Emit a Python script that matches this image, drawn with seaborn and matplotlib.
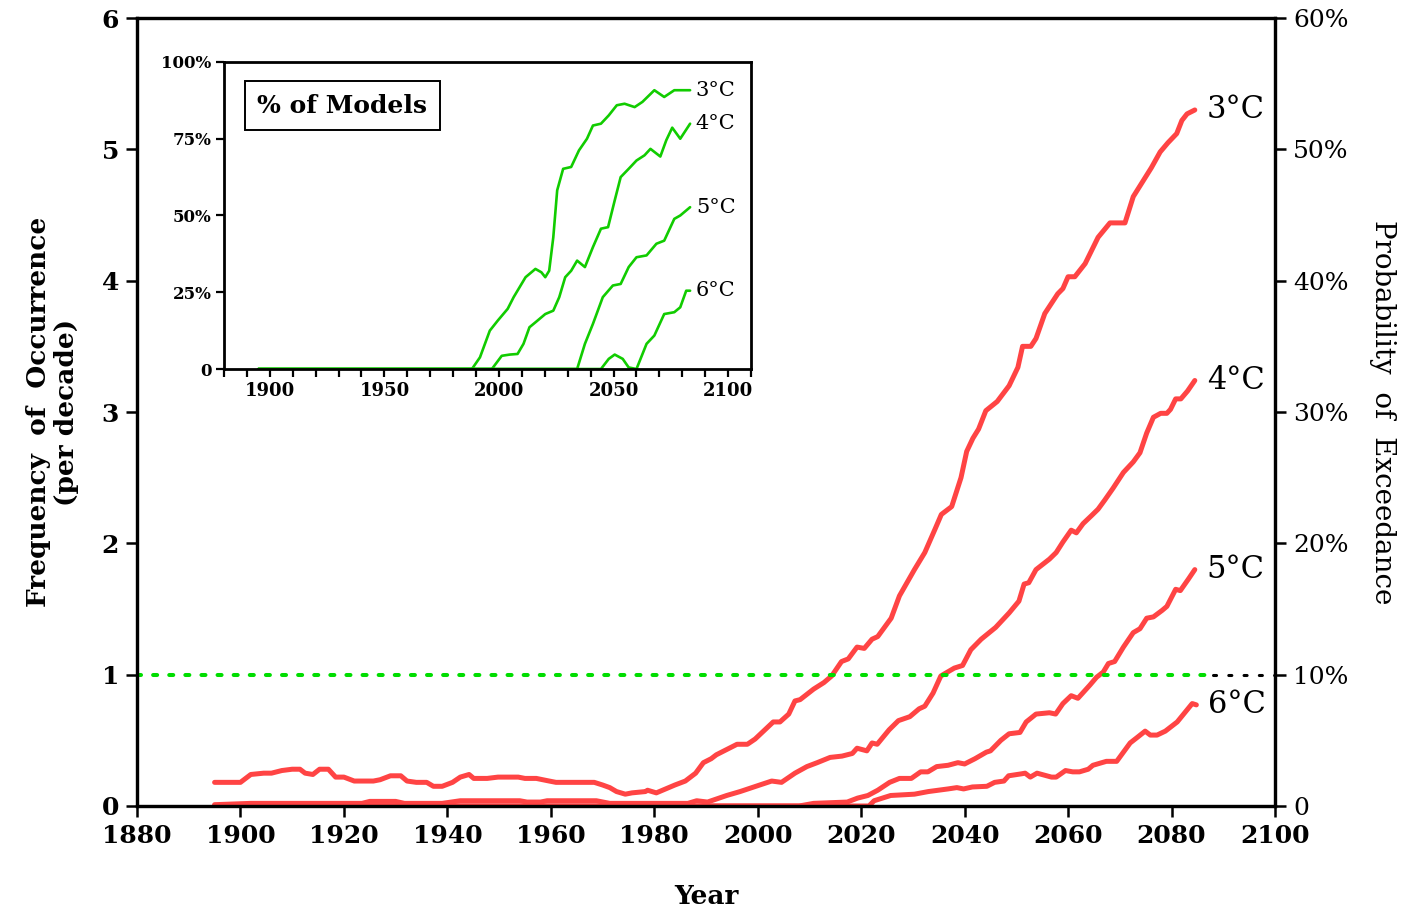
import numpy as np
import pandas as pd
import matplotlib
matplotlib.use("Agg")
import matplotlib.pyplot as plt
import seaborn as sns

# ---------------- data ----------------
yr_3c = [1895, 1900, 1902, 1904.5, 1906, 1908, 1910, 1911.5, 1912.5, 1914, 1915.3, 1917, 1918.4, 1920,
         1922, 1925.7, 1927, 1929, 1931, 1932.2, 1934, 1936, 1937.3, 1939, 1941, 1942.5, 1944.2, 1945.1,
         1947.7, 1949.8, 1953.7, 1955, 1957.2, 1959.7, 1961, 1968.4, 1970, 1971.4, 1972.7, 1974.4, 1975.7,
         1978.3, 1978.7, 1980.4, 1984, 1986, 1988, 1989.5, 1991, 1992, 1994, 1996, 1998, 1999.5, 2003,
         2004.3, 2006, 2007.2, 2008.2, 2010.8, 2012.8, 2014.3, 2016.2, 2017.5, 2019.2, 2020.6, 2022.1,
         2023.2, 2025.8, 2027.4, 2030.3, 2032.3, 2034.3, 2035.5, 2037.5, 2039.3, 2040.4, 2041.6, 2042.7,
         2044.1, 2046.3, 2048.6, 2050.3, 2051.2, 2052.8, 2053.8, 2055.5, 2058, 2059, 2060, 2061.3, 2063.3,
         2065.8, 2068.1, 2071, 2072.6, 2076.1, 2077.8, 2079.3, 2081, 2082, 2083, 2084.5]
val_3c = [0.18, 0.18, 0.24, 0.25, 0.25, 0.27, 0.28, 0.28, 0.25, 0.24, 0.28, 0.28, 0.22, 0.22,
          0.19, 0.19, 0.20, 0.23, 0.23, 0.19, 0.18, 0.18, 0.15, 0.15, 0.18, 0.22, 0.24, 0.21,
          0.21, 0.22, 0.22, 0.21, 0.21, 0.19, 0.18, 0.18, 0.16, 0.14, 0.11, 0.09, 0.10,
          0.11, 0.12, 0.10, 0.16, 0.19, 0.25, 0.33, 0.36, 0.39, 0.43, 0.47, 0.47, 0.51, 0.64,
          0.64, 0.70, 0.80, 0.81, 0.89, 0.94, 0.99, 1.10, 1.12, 1.21, 1.20, 1.27,
          1.29, 1.43, 1.60, 1.80, 1.93, 2.11, 2.22, 2.28, 2.50, 2.70, 2.80, 2.87,
          3.01, 3.08, 3.20, 3.34, 3.50, 3.50, 3.56, 3.75, 3.90, 3.94, 4.03, 4.03, 4.13,
          4.33, 4.44, 4.44, 4.64, 4.86, 4.98, 5.05, 5.12, 5.22, 5.27, 5.30]

yr_4c = [1895, 1902, 1923.5, 1925, 1930, 1931.7, 1939, 1942.5, 1954, 1955.4, 1958, 1959.3, 1968.8, 1971.4,
         1986.5, 1988.2, 1990.3, 1994, 1996.6, 2000.4, 2002.7, 2004.6, 2007.2, 2009.5, 2011.5, 2014,
         2016.3, 2018.3, 2019.2, 2021.1, 2022.1, 2023.1, 2025.4, 2027.2, 2029.4, 2031.2, 2032.3, 2033.9,
         2035.4, 2038, 2039.6, 2041.2, 2043.2, 2046, 2048.6, 2050.5, 2051.5, 2052.4, 2053.8, 2056.4,
         2057.7, 2059, 2060.6, 2061.6, 2062.9, 2064.5, 2065.8, 2067.1, 2068.7, 2070.7, 2072.6, 2073.9,
         2075.2, 2076.5, 2077.9, 2079.1, 2079.8, 2080.8, 2081.8, 2083.1, 2084.5]
val_4c = [0.01, 0.02, 0.02, 0.035, 0.035, 0.02, 0.02, 0.04, 0.04, 0.03, 0.03, 0.04, 0.04, 0.02,
          0.02, 0.04, 0.03, 0.08, 0.11, 0.16, 0.19, 0.18, 0.25, 0.30, 0.33, 0.37,
          0.38, 0.40, 0.44, 0.42, 0.48, 0.47, 0.58, 0.65, 0.68, 0.74, 0.76, 0.86,
          0.99, 1.05, 1.07, 1.19, 1.27, 1.36, 1.47, 1.56, 1.69, 1.70, 1.80, 1.88,
          1.93, 2.01, 2.10, 2.08, 2.15, 2.21, 2.26, 2.33, 2.42, 2.54, 2.62, 2.69,
          2.84, 2.96, 2.99, 2.99, 3.02, 3.10, 3.10, 3.16, 3.24]

yr_5c = [1895, 2008, 2010.8, 2017.3, 2019.3, 2021.3, 2023.2, 2025.5, 2027.4, 2029.7, 2031.5, 2032.9,
         2034.6, 2036.8, 2038.7, 2040, 2042, 2044.2, 2045, 2047, 2048.6, 2050.7, 2051.9, 2053.8, 2056.4,
         2057.6, 2059, 2060.6, 2061.9, 2064.2, 2065.5, 2066.8, 2067.8, 2069, 2070.7, 2072.6, 2073.9,
         2075.2, 2076.5, 2078.2, 2079.1, 2080.8, 2081.7, 2083.3, 2084.5]
val_5c = [0.0, 0.0, 0.02, 0.03, 0.06, 0.08, 0.12, 0.18, 0.21, 0.21, 0.26, 0.26,
          0.30, 0.31, 0.33, 0.32, 0.36, 0.41, 0.42, 0.50, 0.55, 0.56, 0.64, 0.70, 0.71,
          0.70, 0.78, 0.84, 0.82, 0.92, 0.98, 1.02, 1.085, 1.10, 1.21, 1.32, 1.35,
          1.43, 1.44, 1.49, 1.52, 1.65, 1.64, 1.73, 1.80]

yr_6c = [1895, 2021.5, 2022.5, 2025.7, 2030.3, 2033, 2036.8, 2038.5, 2039.8, 2041.5, 2044.3, 2045.8,
         2047.6, 2048.5, 2051, 2051.7, 2052.7, 2054, 2056.8, 2057.7, 2059.5, 2060.9, 2062.2, 2063.9,
         2064.8, 2067.4, 2069.4, 2072, 2073.3, 2074.9, 2075.9, 2077.2, 2078.8, 2081.1, 2084, 2084.8]
val_6c = [0.0, 0.0, 0.04, 0.08, 0.09, 0.11, 0.13, 0.14, 0.13, 0.145, 0.15, 0.18,
          0.19, 0.23, 0.245, 0.25, 0.22, 0.25, 0.22, 0.22, 0.27, 0.26, 0.26, 0.28,
          0.31, 0.34, 0.34, 0.48, 0.52, 0.57, 0.54, 0.54, 0.57, 0.64, 0.78, 0.77]

# inset: % of models
pyr_3c = [1895, 1988.2, 1991.7, 1996, 1999.5, 2003.8, 2006.4, 2011.6, 2015.9, 2018.5, 2020.2, 2021.9,
          2023.7, 2025.4, 2028, 2031.5, 2034.9, 2038.4, 2041, 2044.5, 2047.9, 2051.4, 2054.8, 2059.2,
          2062.6, 2067.8, 2072.1, 2076.5, 2083.4]
pct_3c = [0, 0, 3.8, 12.5, 15.8, 19.6, 23.4, 29.9, 32.6, 31.5, 29.9, 32.0,
          42.9, 58.2, 65.2, 65.8, 71.2, 75.0, 79.3, 79.9, 82.6, 85.9, 86.4, 85.3,
          87.0, 90.8, 88.6, 90.8, 90.8]
pyr_4c = [1895, 1996.9, 2001.2, 2004.7, 2008.1, 2010.7, 2013.3, 2015.9, 2020.2, 2023.7, 2026.3, 2028.9,
          2031.5, 2034.1, 2037.5, 2041, 2044.5, 2047.6, 2050.5, 2053.1, 2056.6, 2060, 2063.5, 2066.1,
          2070.4, 2073, 2075.6, 2079.1, 2083.4]
pct_4c = [0, 0, 4.3, 4.7, 4.9, 8.2, 13.6, 15.2, 17.9, 19.0, 23.4, 29.9,
          32.0, 35.3, 33.2, 39.7, 45.7, 46.2, 54.9, 62.5, 65.2, 67.9, 69.6, 71.7,
          69.2, 74.5, 78.6, 75.0, 79.9]
pyr_5c = [1895, 2034.1, 2037.5, 2041, 2045.3, 2049.7, 2053.1, 2056.6, 2060, 2064.4, 2068.7, 2072.1,
          2076.5, 2079.1, 2083.4]
pct_5c = [0, 0, 8.2, 14.7, 23.4, 27.2, 27.7, 33.2, 36.4, 37.0, 40.8, 41.8, 48.9, 50.0, 52.7]
pyr_6c = [1895, 2044.5, 2047.9, 2050.5, 2054, 2056.6, 2060, 2064.4, 2067.8, 2072.1, 2076.5, 2079.1,
          2081.7, 2083.4]
pct_6c = [0, 0, 3.3, 4.7, 3.3, 0.5, 0, 8.2, 10.9, 17.9, 18.5, 20.1, 25.5, 25.5]

labels = ["3°C", "4°C", "5°C", "6°C"]
main_series = [(yr_3c, val_3c), (yr_4c, val_4c), (yr_5c, val_5c), (yr_6c, val_6c)]
inset_series = [(pyr_3c, pct_3c), (pyr_4c, pct_4c), (pyr_5c, pct_5c), (pyr_6c, pct_6c)]

x_ticks = list(range(1880, 2101, 20))
y_ticks = [0, 1, 2, 3, 4, 5, 6]
y2_ticks = [0, 0.1, 0.2, 0.3, 0.4, 0.5, 0.6]
y2_labels = ["0", "10%", "20%", "30%", "40%", "50%", "60%"]
in_xticks = [1900, 1950, 2000, 2050, 2100]
in_yticks = [0, 25, 50, 75, 100]
in_ylabels = ["0", "25%", "50%", "75%", "100%"]
threshold = 1.0

# ---------------- style ----------------
sns.set_theme(style="ticks")
plt.rcParams["font.family"] = ["DejaVu Serif"]
plt.rcParams["axes.linewidth"] = 2.3
plt.rcParams["xtick.major.width"] = 1.8
plt.rcParams["ytick.major.width"] = 1.8
plt.rcParams["xtick.minor.width"] = 1.8
plt.rcParams["xtick.color"] = "black"
plt.rcParams["ytick.color"] = "black"
plt.rcParams["xtick.labelcolor"] = "black"
plt.rcParams["ytick.labelcolor"] = "black"
plt.rcParams["axes.edgecolor"] = "black"
plt.rcParams["axes.labelcolor"] = "black"
plt.rcParams["text.color"] = "black"

RED = "#ff4444"
GREEN = "#11cc00"

fig = plt.figure(figsize=(14.07, 9.10), dpi=100)
ax = fig.add_axes([0.09737, 0.11429, 0.8088, 0.8659])

for (xs, ys) in main_series:
    df = pd.DataFrame({"year": xs, "freq": ys})
    sns.lineplot(data=df, x="year", y="freq", ax=ax, color=RED, lw=3.6,
                 sort=False, estimator=None, solid_capstyle="round", solid_joinstyle="round")

for lab, (xs, ys) in zip(labels, main_series):
    ax.text(xs[-1] + 2.3, ys[-1], lab, fontsize=22, va="center", ha="left", color="black")

ax.plot([1880, 2087], [threshold, threshold], color="#00dd00", lw=2.9,
        linestyle=(0, (1, 3)), dash_capstyle="round")
ax.plot([2088, 2100], [threshold, threshold], color="black", lw=2.2,
        linestyle=(0, (1, 4)), dash_capstyle="round")

ax.set_xlim(1880, 2100)
ax.set_ylim(0, 6)
ax.set_xticks(x_ticks)
ax.set_yticks(y_ticks)
ax.set_xticklabels([str(t) for t in x_ticks], fontsize=18, fontweight="bold")
ax.set_yticklabels([str(t) for t in y_ticks], fontsize=18, fontweight="bold")
ax.tick_params(axis="both", direction="out", length=8, pad=5)
ax.set_xlabel("Year", fontsize=19, fontweight="bold", labelpad=26)
ax.set_ylabel("Frequency  of  Occurrence\n(per decade)", fontsize=19, fontweight="bold",
              labelpad=16, linespacing=1.15)
for s in ax.spines.values():
    s.set_visible(True)
    s.set_linewidth(2.3)

ax2 = ax.twinx()
ax2.set_ylim(0, 0.6)
ax2.set_yticks(y2_ticks)
ax2.set_yticklabels(y2_labels, fontsize=18)
ax2.tick_params(axis="y", direction="out", length=8, pad=5)
ax2.set_ylabel("Probability  of  Exceedance", fontsize=20, rotation=270, labelpad=34)
for s in ax2.spines.values():
    s.set_linewidth(2.3)

# ---------------- inset ----------------
axi = fig.add_axes([0.1592, 0.5945, 0.3746, 0.3374])
axi.set_facecolor("white")
for (xs, ys) in inset_series:
    df = pd.DataFrame({"year": xs, "pct": ys})
    sns.lineplot(data=df, x="year", y="pct", ax=axi, color=GREEN, lw=1.9,
                 sort=False, estimator=None)
for lab, (xs, ys) in zip(labels, inset_series):
    axi.text(xs[-1] + 2.5, ys[-1], lab, fontsize=15, va="center", ha="left", color="black")

axi.set_xlim(1880, 2110)
axi.set_ylim(0, 100)
axi.set_xticks(in_xticks)
axi.set_xticks(list(range(1880, 2111, 10)), minor=True)
axi.set_xticklabels([str(t) for t in in_xticks], fontsize=13, fontweight="bold")
axi.set_yticks(in_yticks)
axi.set_yticklabels(in_ylabels, fontsize=12, fontweight="bold")
axi.tick_params(axis="both", which="both", direction="out", length=6, width=1.6, pad=3)
axi.set_xlabel("")
axi.set_ylabel("")
for s in axi.spines.values():
    s.set_visible(True)
    s.set_linewidth(2.0)
axi.text(0.224, 0.857, "% of Models", transform=axi.transAxes, fontsize=18, fontweight="bold",
         ha="center", va="center",
         bbox=dict(boxstyle="square,pad=0.5", fc="white", ec="black", lw=1.4))

fig.savefig("out.png", dpi=100)
